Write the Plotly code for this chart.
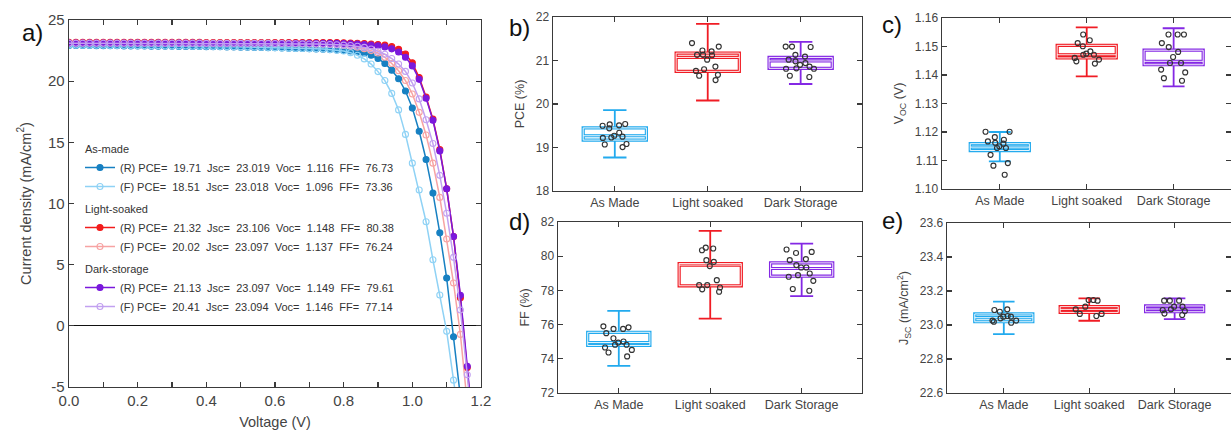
import plotly.graph_objects as go

# ---------------- data: J-V curves (panel a) ----------------
voltage = [0.00, 0.02, 0.04, 0.06, 0.08, 0.10, 0.12, 0.14, 0.16, 0.18,
           0.20, 0.22, 0.24, 0.26, 0.28, 0.30, 0.32, 0.34, 0.36, 0.38,
           0.40, 0.42, 0.44, 0.46, 0.48, 0.50, 0.52, 0.54, 0.56, 0.58,
           0.60, 0.62, 0.64, 0.66, 0.68, 0.70, 0.72, 0.74, 0.76, 0.78,
           0.80, 0.82, 0.84, 0.86, 0.88, 0.90, 0.92, 0.94, 0.96, 0.98,
           1.00, 1.02, 1.04, 1.06, 1.08, 1.10, 1.12, 1.14, 1.16, 1.18]

asmade_R = [22.92, 22.92, 22.91, 22.91, 22.90, 22.90, 22.89, 22.89, 22.88, 22.88,
            22.87, 22.87, 22.86, 22.86, 22.85, 22.85, 22.84, 22.84, 22.83, 22.83,
            22.82, 22.81, 22.81, 22.80, 22.79, 22.78, 22.77, 22.76, 22.75, 22.74,
            22.73, 22.71, 22.70, 22.68, 22.67, 22.65, 22.63, 22.61, 22.58, 22.55,
            22.51, 22.46, 22.40, 22.30, 22.12, 21.85, 21.45, 20.90, 20.20, 19.20,
            17.80, 15.90, 13.60, 10.85, 7.60, 3.90, -0.90, -5.60, -10.50, -15.50]
asmade_F = [22.95, 22.95, 22.94, 22.94, 22.93, 22.93, 22.92, 22.92, 22.91, 22.91,
            22.90, 22.90, 22.89, 22.89, 22.88, 22.88, 22.87, 22.87, 22.86, 22.85,
            22.85, 22.84, 22.83, 22.82, 22.81, 22.80, 22.79, 22.78, 22.77, 22.75,
            22.74, 22.72, 22.70, 22.68, 22.67, 22.66, 22.64, 22.62, 22.58, 22.53,
            22.46, 22.33, 22.12, 21.82, 21.40, 20.78, 20.05, 19.00, 17.65, 15.65,
            13.30, 11.10, 8.51, 5.40, 2.52, -0.45, -4.44, -8.40, -12.40, -16.40]
light_R = [23.17, 23.17, 23.17, 23.17, 23.17, 23.17, 23.17, 23.17, 23.17, 23.17,
           23.17, 23.17, 23.17, 23.17, 23.17, 23.17, 23.17, 23.17, 23.17, 23.17,
           23.16, 23.16, 23.16, 23.16, 23.16, 23.16, 23.16, 23.16, 23.16, 23.16,
           23.16, 23.16, 23.16, 23.16, 23.16, 23.16, 23.16, 23.16, 23.16, 23.16,
           23.14, 23.12, 23.10, 23.07, 23.04, 23.00, 22.95, 22.82, 22.60, 22.22,
           21.50, 20.30, 18.70, 16.90, 14.40, 11.20, 7.30, 2.30, -3.40, -9.50]
light_F = [23.11, 23.11, 23.11, 23.11, 23.11, 23.11, 23.11, 23.11, 23.11, 23.11,
           23.11, 23.11, 23.11, 23.11, 23.11, 23.11, 23.11, 23.11, 23.11, 23.11,
           23.10, 23.10, 23.10, 23.10, 23.10, 23.10, 23.10, 23.10, 23.10, 23.10,
           23.09, 23.09, 23.08, 23.07, 23.06, 23.05, 23.04, 23.03, 23.01, 22.98,
           22.93, 22.87, 22.78, 22.66, 22.50, 22.30, 21.95, 21.45, 20.85, 20.05,
           18.95, 17.45, 15.60, 13.30, 10.50, 7.10, 3.50, -0.70, -6.00, -12.00]
dark_R = [23.11, 23.11, 23.11, 23.11, 23.11, 23.11, 23.11, 23.11, 23.11, 23.11,
          23.11, 23.11, 23.11, 23.11, 23.11, 23.11, 23.11, 23.11, 23.11, 23.11,
          23.10, 23.10, 23.10, 23.10, 23.10, 23.10, 23.10, 23.10, 23.10, 23.10,
          23.10, 23.10, 23.10, 23.10, 23.10, 23.10, 23.10, 23.10, 23.10, 23.10,
          23.08, 23.06, 23.03, 23.00, 22.96, 22.90, 22.80, 22.64, 22.38, 21.95,
          21.25, 20.15, 18.60, 16.80, 14.30, 11.20, 7.30, 2.50, -3.30, -9.40]
dark_F = [23.10, 23.10, 23.10, 23.10, 23.10, 23.10, 23.10, 23.10, 23.10, 23.10,
          23.10, 23.10, 23.10, 23.10, 23.10, 23.10, 23.10, 23.10, 23.10, 23.10,
          23.09, 23.09, 23.09, 23.09, 23.09, 23.09, 23.09, 23.09, 23.09, 23.09,
          23.08, 23.08, 23.07, 23.06, 23.05, 23.04, 23.03, 23.02, 23.00, 22.98,
          22.95, 22.91, 22.85, 22.76, 22.63, 22.45, 22.20, 21.85, 21.40, 20.80,
          19.85, 18.55, 16.85, 14.90, 12.30, 9.20, 5.60, 1.30, -4.00, -10.00]

jv_labels = [
    "(R) PCE=\u00a0\u00a019.71\u00a0\u00a0Jsc=\u00a0\u00a023.019\u00a0\u00a0Voc=\u00a0\u00a01.116\u00a0\u00a0FF=\u00a0\u00a076.73",
    "(F) PCE=\u00a0\u00a018.51\u00a0\u00a0Jsc=\u00a0\u00a023.018\u00a0\u00a0Voc=\u00a0\u00a01.096\u00a0\u00a0FF=\u00a0\u00a073.36",
    "(R) PCE=\u00a0\u00a021.32\u00a0\u00a0Jsc=\u00a0\u00a023.106\u00a0\u00a0Voc=\u00a0\u00a01.148\u00a0\u00a0FF=\u00a0\u00a080.38",
    "(F) PCE=\u00a0\u00a020.02\u00a0\u00a0Jsc=\u00a0\u00a023.097\u00a0\u00a0Voc=\u00a0\u00a01.137\u00a0\u00a0FF=\u00a0\u00a076.24",
    "(R) PCE=\u00a0\u00a021.13\u00a0\u00a0Jsc=\u00a0\u00a023.097\u00a0\u00a0Voc=\u00a0\u00a01.149\u00a0\u00a0FF=\u00a0\u00a079.61",
    "(F) PCE=\u00a0\u00a020.41\u00a0\u00a0Jsc=\u00a0\u00a023.094\u00a0\u00a0Voc=\u00a0\u00a01.146\u00a0\u00a0FF=\u00a0\u00a077.14",
]
jv_groups = ["As-made", "As-made", "Light-soaked", "Light-soaked", "Dark-storage", "Dark-storage"]

j_tickvals = [-5, 0, 5, 10, 15, 20, 25]
j_ticktext = ["-5", "0", "5", "10", "15", "20", "25"]

# ---------------- data: box plots (panels b-e) ----------------
categories = ["As Made", "Light soaked", "Dark Storage"]

pce_asmade = [19.54, 19.53, 19.51, 19.50, 19.44, 19.34, 19.27, 19.25, 19.23, 19.22, 19.08, 19.07, 19.01]
pce_light = [21.40, 21.32, 21.23, 21.21, 21.13, 21.13, 21.12, 21.02, 20.86, 20.80, 20.76, 20.67, 20.65, 20.55]
pce_dark = [21.32, 21.31, 21.32, 21.13, 21.09, 21.02, 20.98, 20.94, 20.90, 20.86, 20.82, 20.81, 20.81, 20.65, 20.62]
# q1, median, q3, lower whisker, upper whisker
pce_stats = [[19.17, 19.27, 19.45, 18.77, 19.86],
             [20.75, 21.07, 21.17, 20.08, 21.84],
             [20.82, 20.99, 21.07, 20.46, 21.43]]

voc_asmade = [1.1201, 1.1201, 1.1182, 1.1173, 1.1167, 1.1162, 1.1159, 1.1150, 1.1144, 1.1144, 1.1120, 1.1091, 1.1082, 1.1050]
voc_light = [1.1542, 1.1522, 1.1512, 1.1501, 1.1483, 1.1475, 1.1471, 1.1471, 1.1460, 1.1454, 1.1448, 1.1440]
voc_dark = [1.1542, 1.1542, 1.1542, 1.1512, 1.1498, 1.1481, 1.1463, 1.1442, 1.1442, 1.1419, 1.1409, 1.1389, 1.1380]
voc_stats = [[1.1135, 1.1147, 1.1159, 1.1097, 1.1200],
             [1.1460, 1.1471, 1.1504, 1.1395, 1.1567],
             [1.1436, 1.1448, 1.1487, 1.1360, 1.1564]]

ff_asmade = [75.90, 75.84, 75.75, 75.75, 75.50, 75.20, 75.01, 74.95, 74.82, 74.82, 74.66, 74.52, 74.37, 74.14]
ff_light = [80.50, 80.45, 80.35, 79.77, 79.67, 79.42, 78.60, 78.31, 78.31, 78.17, 78.06, 77.92]
ff_dark = [80.39, 80.25, 80.19, 79.83, 79.77, 79.48, 79.34, 79.34, 78.99, 78.89, 78.80, 78.56, 78.08, 77.98]
ff_stats = [[74.78, 74.95, 75.55, 73.59, 76.80],
            [78.27, 79.48, 79.57, 76.35, 81.48],
            [78.83, 79.28, 79.61, 77.67, 80.74]]

jsc_asmade = [23.092, 23.088, 23.078, 23.053, 23.049, 23.049, 23.039, 23.026, 23.026, 23.019, 23.013]
jsc_light = [23.147, 23.147, 23.143, 23.108, 23.092, 23.065, 23.065, 23.053]
jsc_dark = [23.143, 23.143, 23.143, 23.108, 23.108, 23.092, 23.088, 23.082, 23.067, 23.059]
jsc_stats = [[23.019, 23.043, 23.065, 22.946, 23.137],
             [23.074, 23.092, 23.108, 23.025, 23.157],
             [23.078, 23.094, 23.112, 23.035, 23.157]]

# ---------------- styling ----------------
FONT = "Liberation Sans, Arial, sans-serif"
TXT = "#444444"
AX = "#3a3a3a"
jv_colors = ["#1780c2", "#8fd2f5", "#f21c1c", "#f7a3a3", "#7a18dc", "#c2a0f0"]
jv_symbols = ["circle", "circle-open", "circle", "circle-open", "circle", "circle-open"]
box_colors = ["#22aaee", "#f01c24", "#8428e4"]

fig = go.Figure()

# ---------------- panel a ----------------
jv_series = [asmade_R, asmade_F, light_R, light_F, dark_R, dark_F]
for i, ys in enumerate(jv_series):
    extra = {}
    if i % 2 == 0:
        extra["legendgrouptitle"] = dict(text=jv_groups[i], font=dict(size=11, color="#333333"))
    fig.add_trace(go.Scatter(
        x=voltage, y=ys, mode="lines+markers", name=jv_labels[i],
        legendgroup=jv_groups[i],
        line=dict(color=jv_colors[i], width=1.5),
        marker=dict(symbol=jv_symbols[i], size=6, color=jv_colors[i],
                    line=dict(width=1.1, color=jv_colors[i])),
        xaxis="x", yaxis="y", cliponaxis=True, hoverinfo="skip", **extra))


# ---------------- box panels ----------------
def add_box_panel(xa, ya, samples, stats):
    for i, cat in enumerate(categories):
        q1, med, q3, lo, hi = stats[i]
        col = box_colors[i]
        # whiskers + caps
        fig.add_trace(go.Box(x=[cat], q1=[q1], median=[med], q3=[q3], lowerfence=[lo], upperfence=[hi],
                             xaxis=xa, yaxis=ya, width=0.68, whiskerwidth=0.37, boxpoints=False,
                             line=dict(color=col, width=1.8), fillcolor="white",
                             showlegend=False, hoverinfo="skip"))
        # thick box outline
        fig.add_trace(go.Box(x=[cat], q1=[q1], median=[med], q3=[q3], lowerfence=[q1], upperfence=[q3],
                             xaxis=xa, yaxis=ya, width=0.68, whiskerwidth=0, boxpoints=False,
                             line=dict(color=col, width=3.2), fillcolor="rgba(0,0,0,0)",
                             showlegend=False, hoverinfo="skip"))
        # hollow centre of the outline
        fig.add_trace(go.Box(x=[cat], q1=[q1], median=[med], q3=[q3], lowerfence=[q1], upperfence=[q3],
                             xaxis=xa, yaxis=ya, width=0.68, whiskerwidth=0, boxpoints=False,
                             line=dict(color="white", width=0.9), fillcolor="rgba(0,0,0,0)",
                             showlegend=False, hoverinfo="skip"))
        # individual samples
        fig.add_trace(go.Box(x=[cat] * len(samples[i]), y=samples[i], xaxis=xa, yaxis=ya,
                             width=0.68, boxpoints="all", jitter=0.55, pointpos=0,
                             line=dict(color="rgba(0,0,0,0)", width=0), fillcolor="rgba(0,0,0,0)",
                             marker=dict(symbol="circle-open", size=5, color="#333333",
                                         line=dict(width=1.15, color="#333333")),
                             showlegend=False, hoverinfo="skip"))


add_box_panel("x2", "y2", [pce_asmade, pce_light, pce_dark], pce_stats)
add_box_panel("x3", "y3", [voc_asmade, voc_light, voc_dark], voc_stats)
add_box_panel("x4", "y4", [ff_asmade, ff_light, ff_dark], ff_stats)
add_box_panel("x5", "y5", [jsc_asmade, jsc_light, jsc_dark], jsc_stats)

W, H = 1231, 431


def px_x(a, b):
    return [a / W, b / W]


def px_y(top, bottom):
    return [(H - bottom) / H, (H - top) / H]


common = dict(showline=True, linecolor=AX, linewidth=1.4, mirror="allticks", ticks="inside",
              ticklen=5, tickwidth=1.3, tickcolor=AX, showgrid=False, zeroline=False,
              automargin=False, tickfont=dict(family=FONT, size=12, color=TXT))


def cat_axis(domain, anchor):
    d = dict(common)
    d.update(domain=domain, anchor=anchor, type="category", categoryorder="array",
             categoryarray=categories, range=[-0.665, 2.66],
             tickfont=dict(family=FONT, size=12.5, color=TXT))
    return d


def val_axis(domain, anchor, rng, dtick, fmt, title, standoff):
    d = dict(common)
    d.update(domain=domain, anchor=anchor, range=rng, dtick=dtick, tick0=rng[0], tickformat=fmt,
             title=dict(text=title, font=dict(family=FONT, size=12.5, color=TXT), standoff=standoff))
    return d


xa = dict(common)
xa.update(domain=px_x(69, 481), anchor="y", range=[0, 1.2], dtick=0.2, tick0=0, tickformat=".1f",
          minor=dict(dtick=0.1, tick0=0, ticks="inside", ticklen=5, tickwidth=1.3, tickcolor=AX, showgrid=False),
          tickfont=dict(family=FONT, size=15, color=TXT),
          title=dict(text="Voltage (V)", font=dict(family=FONT, size=14.5, color=TXT), standoff=8))
ya = dict(common)
ya.update(domain=px_y(20, 387), anchor="x", range=[-5, 25], tickmode="array",
          tickvals=j_tickvals, ticktext=j_ticktext,
          tickfont=dict(family=FONT, size=15, color=TXT),
          zeroline=True, zerolinecolor="#111111", zerolinewidth=1.3,
          title=dict(text="Current density (mA/cm<sup>2</sup>)", font=dict(family=FONT, size=14.5, color=TXT), standoff=13))

fig.update_layout(
    width=W, height=H, margin=dict(l=0, r=0, t=0, b=0, autoexpand=False),
    paper_bgcolor="white", plot_bgcolor="white",
    font=dict(family=FONT, color=TXT),
    boxmode="overlay",
    xaxis=xa, yaxis=ya,
    xaxis2=cat_axis(px_x(553, 862), "y2"),
    yaxis2=val_axis(px_y(17, 191), "x2", [18, 22], 1, "d", "PCE (%)", 8),
    xaxis3=cat_axis(px_x(942, 1231), "y3"),
    yaxis3=val_axis(px_y(18, 189), "x3", [1.10, 1.16], 0.01, ".2f", "V<sub>OC</sub> (V)", 8),
    xaxis4=cat_axis(px_x(558, 862), "y4"),
    yaxis4=val_axis(px_y(222, 393), "x4", [72, 82], 2, "d", "FF (%)", 8),
    xaxis5=cat_axis(px_x(947, 1231), "y5"),
    yaxis5=val_axis(px_y(223, 393), "x5", [22.6, 23.6], 0.2, ".1f", "J<sub>SC</sub> (mA/cm<sup>2</sup>)", 8),
    legend=dict(x=80 / W, y=1 - 134 / H, xanchor="left", yanchor="top", bgcolor="rgba(0,0,0,0)",
                font=dict(family=FONT, size=11, color="#333333"), tracegroupgap=3,
                traceorder="grouped", itemwidth=30),
    showlegend=True,
)

panel_labels = [("a)", 32, 33), ("b)", 519, 28), ("c)", 892, 24), ("d)", 519, 221), ("e)", 892, 220)]
for txt, px, py in panel_labels:
    fig.add_annotation(text=txt, x=px / W, y=1 - py / H, xref="paper", yref="paper",
                       showarrow=False, font=dict(family=FONT, size=24, color="#111111"),
                       xanchor="center", yanchor="middle")

fig.write_html("out.html", config={"displayModeBar": False, "staticPlot": True},
               post_script="document.body.style.margin='0';document.body.style.overflow='hidden';")
